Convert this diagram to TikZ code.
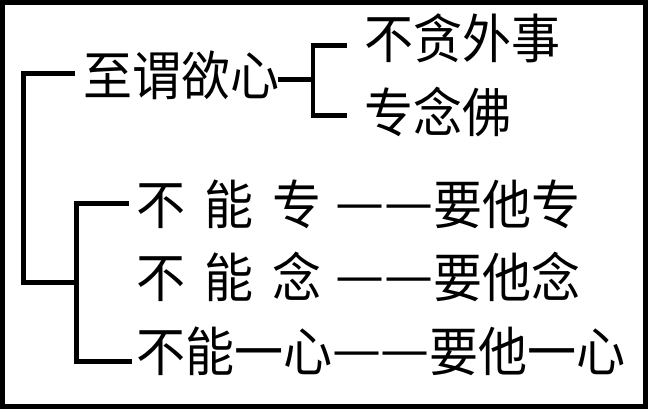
\documentclass[tikz,border=0pt]{standalone}
\usepackage{fontspec}
\newfontfamily\cjk[FakeStretch=0.925]{Noto Sans CJK SC}
\tikzset{
  txt/.style={font=\cjk\fontsize{53pt}{53pt}\selectfont, inner sep=0pt, anchor=base west},
  br/.style={line width=4.6pt, line cap=rect, line join=miter}
}
\newcommand{\gp}{\hspace{19pt}}
\newcommand{\dsh}{\makebox[48.5pt]{\raisebox{3pt}{\scalebox{1.12}[1]{—}}}}
\begin{document}
\begin{tikzpicture}[x=1pt,y=-1pt]
\useasboundingbox (0,0) rectangle (648,409);
\fill[white] (0,0) rectangle (648,409);
\draw[line width=5pt] (2.5,2.2) rectangle (645.3,406);
% text
\node[txt] (zhi) at (83,95.5) {至谓欲心};
\node[txt] (bt) at (364,59) {不贪外事};
\node[txt] (zn) at (364,132.5) {专念佛};
\node[txt] (r1a) at (136,224) {不\gp 能\gp 专};
\node[txt] (r1b) at (336,224) {\dsh\dsh 要他专};
\node[txt] (r2a) at (136,297) {不\gp 能\gp 念};
\node[txt] (r2b) at (336,297) {\dsh\dsh 要他念};
\node[txt] (r3) at (136,371) {不能一心\dsh\dsh 要他一心};
% top-level bracket
\coordinate (a1) at (73,73.5);
\coordinate (a2) at (76.5,282.5);
\draw[br] (a1) -- (23.5,73.5) |- (a2);
% second bracket
\coordinate (b1) at (127,203.5);
\coordinate (b2) at (130,361.5);
\draw[br] (b1) -| (76.5,361.5) -- (b2);
% small bracket
\coordinate (c0) at (280,79.5);
\coordinate (cm) at (313,79.5);
\coordinate (c1) at (345,45.5);
\coordinate (c2) at (345,115.5);
\draw[br] (c0) -- (cm);
\draw[br] (c1) -| (313,115.5) -- (c2);
\end{tikzpicture}
\end{document}
